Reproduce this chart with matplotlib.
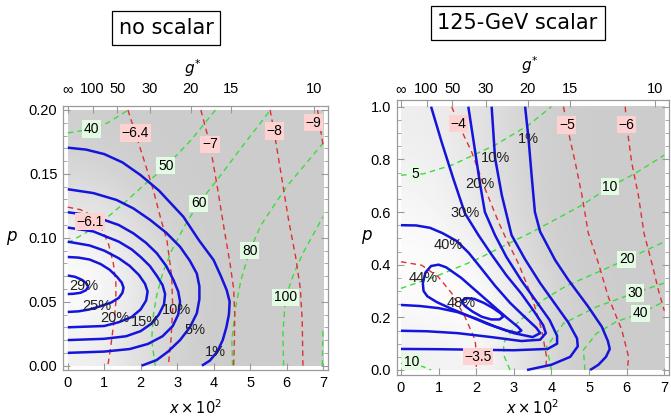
import matplotlib
matplotlib.use('Agg')
import matplotlib.pyplot as plt
import numpy as np

# ---------------- data ----------------
x_ticks = [0, 1, 2, 3, 4, 5, 6, 7]
gstar_pos = [0, 0.68, 1.36, 2.25, 3.37, 4.48, 6.76]
gstar_labels = ['\u221e', '100', '50', '30', '20', '15', '10']

# left panel: background brightness grid (rows = y, cols = x)
L_bg_x = [0, 1, 2, 3, 4, 5, 6, 7]
L_bg_y = [0, 0.05, 0.10, 0.15, 0.20]
L_bg = [[0.94, 0.91, 0.86, 0.82, 0.80, 0.80, 0.80, 0.80],
        [1.00, 0.96, 0.89, 0.83, 0.80, 0.80, 0.80, 0.80],
        [0.95, 0.92, 0.86, 0.82, 0.80, 0.80, 0.80, 0.80],
        [0.86, 0.84, 0.81, 0.80, 0.80, 0.80, 0.80, 0.80],
        [0.81, 0.80, 0.80, 0.80, 0.80, 0.80, 0.80, 0.80]]

L_b29 = [(0, 0.0705), (0.2, 0.0695), (0.4, 0.067), (0.52, 0.064), (0.56, 0.0615), (0.5, 0.059), (0.35, 0.057), (0.15, 0.0562), (0, 0.056)]
L_b25 = [(0, 0.085), (0.3, 0.0845), (0.6, 0.083), (0.9, 0.0795), (1.15, 0.075), (1.35, 0.0695), (1.48, 0.065), (1.53, 0.061), (1.5, 0.057), (1.4, 0.053), (1.2, 0.0495), (0.9, 0.0465), (0.6, 0.044), (0.3, 0.0425), (0, 0.042)]
L_b20 = [(0, 0.097), (0.6, 0.094), (1.0, 0.09), (1.4, 0.084), (1.7, 0.078), (1.95, 0.071), (2.12, 0.064), (2.19, 0.058), (2.15, 0.051), (2.0, 0.044), (1.75, 0.038), (1.4, 0.034), (1.0, 0.031), (0.5, 0.0305), (0, 0.030)]
L_b15 = [(0, 0.108), (0.7, 0.105), (1.4, 0.097), (1.75, 0.091), (2.0, 0.085), (2.25, 0.078), (2.45, 0.070), (2.6, 0.063), (2.67, 0.056), (2.64, 0.048), (2.5, 0.040), (2.3, 0.033), (2.0, 0.027), (1.6, 0.023), (1.0, 0.021), (0, 0.020)]
L_b10 = [(0, 0.120), (0.5, 0.118), (0.9, 0.115), (1.4, 0.11), (1.8, 0.1035), (2.15, 0.096), (2.44, 0.088), (2.7, 0.078), (2.9, 0.067), (3.03, 0.058), (3.08, 0.05), (3.03, 0.04), (2.88, 0.031), (2.6, 0.023), (2.2, 0.017), (1.7, 0.013), (1.0, 0.011), (0, 0.010)]
L_b05 = [(0, 0.138), (0.7, 0.135), (1.34, 0.1296), (1.8, 0.123), (2.26, 0.114), (2.7, 0.104), (3.08, 0.093), (3.35, 0.082), (3.54, 0.072), (3.61, 0.062), (3.61, 0.052), (3.54, 0.041), (3.35, 0.030), (3.08, 0.020), (2.75, 0.011), (2.44, 0.0044), (2.03, 0)]
L_b01 = [(0, 0.1705), (0.5, 0.169), (1.0, 0.1655), (1.5, 0.159), (2.0, 0.149), (2.5, 0.137), (3.17, 0.1165), (3.6, 0.098), (4.0, 0.0826), (4.2, 0.07), (4.36, 0.059), (4.44, 0.05), (4.42, 0.04), (4.35, 0.03), (4.25, 0.02), (4.1, 0.011), (3.9, 0.004), (3.68, 0)]
L_blue = [L_b29, L_b25, L_b20, L_b15, L_b10, L_b05, L_b01]
L_blue_text = ['29%', '25%', '20%', '15%', '10%', '5%', '1%']
L_blue_lab = [(0.43, 0.062), (0.8, 0.047), (1.3, 0.037), (2.12, 0.034), (2.99, 0.0435), (3.49, 0.028), (4.04, 0.011)]

L_r61 = [(0, 0.124), (0.35, 0.122), (0.7, 0.117), (0.95, 0.106), (1.12, 0.095), (1.25, 0.080), (1.32, 0.065), (1.32, 0.050), (1.27, 0.035), (1.18, 0.015), (1.1, 0)]
L_r64 = [(1.65, 0.2), (1.85, 0.182), (2.1, 0.16), (2.35, 0.137), (2.55, 0.115), (2.72, 0.098), (2.85, 0.07), (2.88, 0.045), (2.83, 0.02), (2.76, 0)]
L_r7 = [(3.65, 0.2), (3.9, 0.173), (4.1, 0.14), (4.3, 0.105), (4.45, 0.08), (4.55, 0.06), (4.58, 0.04), (4.57, 0.02), (4.55, 0)]
L_r8 = [(5.55, 0.2), (5.66, 0.183), (5.85, 0.15), (6.05, 0.115), (6.25, 0.085), (6.38, 0.06), (6.43, 0.035), (6.45, 0)]
L_r9 = [(6.85, 0.2), (6.93, 0.185), (7.0, 0.173)]
L_red = [L_r61, L_r64, L_r7, L_r8, L_r9]
L_red_text = ['\u22126.1', '\u22126.4', '\u22127', '\u22128', '\u22129']
L_red_lab = [(0.61, 0.1126), (1.85, 0.182), (3.9, 0.173), (5.66, 0.1836), (6.74, 0.19)]

L_g40 = [(0, 0.182), (0.66, 0.185), (1.1, 0.19), (1.66, 0.2)]
L_g50 = [(0, 0.096), (0.5, 0.104), (1.0, 0.114), (1.5, 0.126), (2.0, 0.139), (2.7, 0.156), (3.4, 0.177), (4.05, 0.2)]
L_g60 = [(2.4, 0), (2.3, 0.02), (2.35, 0.04), (2.44, 0.055), (2.6, 0.072), (2.85, 0.09), (3.2, 0.109), (3.59, 0.127), (4.09, 0.145), (4.8, 0.172), (5.56, 0.2)]
L_g80 = [(4.52, 0), (4.5, 0.02), (4.6, 0.045), (4.75, 0.067), (4.99, 0.09), (5.3, 0.11), (6.0, 0.14), (7.0, 0.174)]
L_g100 = [(5.92, 0), (5.9, 0.025), (5.97, 0.053), (6.2, 0.072), (6.45, 0.088), (7.0, 0.1165)]
L_g150 = [(6.98, 0), (7.0, 0.03)]
L_green = [L_g40, L_g50, L_g60, L_g80, L_g100, L_g150]
L_green_text = ['40', '50', '60', '80', '100']
L_green_lab = [(0.66, 0.185), (2.69, 0.1564), (3.59, 0.127), (4.99, 0.09), (5.97, 0.0534)]

# right panel
R_bg_x = [0, 1, 2, 3, 4, 5, 6, 7]
R_bg_y = [0, 0.2, 0.4, 0.6, 0.8, 1.0]
R_bg = [[0.94, 0.95, 0.96, 0.90, 0.84, 0.80, 0.80, 0.80],
        [0.98, 0.99, 1.00, 0.93, 0.85, 0.81, 0.80, 0.80],
        [0.99, 0.98, 0.95, 0.88, 0.82, 0.80, 0.80, 0.80],
        [0.97, 0.95, 0.91, 0.85, 0.81, 0.80, 0.80, 0.80],
        [0.95, 0.93, 0.89, 0.84, 0.81, 0.80, 0.80, 0.80],
        [0.93, 0.92, 0.88, 0.84, 0.81, 0.80, 0.80, 0.80]]

R_b48 = [(1.6, 0.262), (1.75, 0.273), (1.95, 0.27), (2.2, 0.255), (2.45, 0.235), (2.65, 0.215), (2.72, 0.203), (2.62, 0.192), (2.4, 0.192), (2.15, 0.202), (1.9, 0.222), (1.7, 0.243), (1.6, 0.262)]
R_b44 = [(0.58, 0.33), (0.65, 0.37), (0.8, 0.395), (1.0, 0.40), (1.2, 0.39), (1.6, 0.35), (2.0, 0.30), (2.4, 0.25), (2.8, 0.2), (3.1, 0.165), (3.2, 0.15), (3.1, 0.14), (2.8, 0.15), (2.3, 0.175), (1.8, 0.205), (1.3, 0.235), (0.95, 0.258), (0.7, 0.28), (0.6, 0.3), (0.58, 0.33)]
R_b40 = [(0, 0.55), (0.4, 0.549), (0.77, 0.54), (1.1, 0.52), (1.48, 0.49), (1.8, 0.445), (2.1, 0.392), (2.5, 0.32), (2.9, 0.255), (3.3, 0.2), (3.6, 0.16), (3.7, 0.14), (3.5, 0.125), (3.0, 0.14), (2.5, 0.165), (2.0, 0.195), (1.5, 0.22), (1.0, 0.235), (0.5, 0.243), (0, 0.247)]
R_b30 = [(0.80, 1.0), (1.08, 0.866), (1.39, 0.727), (1.70, 0.595), (2.06, 0.512), (2.4, 0.44), (2.8, 0.36), (3.2, 0.29), (3.55, 0.22), (3.78, 0.17), (3.85, 0.14), (3.7, 0.115), (3.2, 0.11), (2.4, 0.125), (1.5, 0.14), (0.7, 0.147), (0, 0.149)]
R_b20 = [(1.79, 1.0), (1.95, 0.85), (2.1, 0.708), (2.23, 0.60), (2.5, 0.512), (2.8, 0.43), (3.2, 0.34), (3.6, 0.26), (3.95, 0.19), (4.15, 0.13), (4.15, 0.1), (3.9, 0.08), (3.0, 0.075), (2.0, 0.077), (1.0, 0.079), (0, 0.080)]
R_b10 = [(2.41, 1.0), (2.5, 0.806), (2.68, 0.664), (2.94, 0.512), (3.3, 0.42), (3.7, 0.33), (4.1, 0.25), (4.45, 0.18), (4.68, 0.12), (4.7, 0.09), (4.5, 0.05), (4.0, 0.02), (3.35, 0)]
R_b01 = [(3.30, 1.0), (3.39, 0.879), (3.48, 0.727), (3.56, 0.60), (3.70, 0.525), (4.10, 0.417), (4.45, 0.342), (4.98, 0.24), (5.34, 0.164), (5.5, 0.11), (5.55, 0.08), (5.45, 0.05), (5.25, 0.02), (5.03, 0)]
R_blue = [R_b48, R_b44, R_b40, R_b30, R_b20, R_b10, R_b01]
R_blue_text = ['48%', '44%', '40%', '30%', '20%', '10%', '1%']
R_blue_lab = [(1.61, 0.253), (0.59, 0.348), (1.26, 0.474), (1.70, 0.595), (2.1, 0.708), (2.5, 0.806), (3.39, 0.879)]

R_r35 = [(0, 0.411), (0.55, 0.398), (0.99, 0.354), (1.35, 0.291), (1.70, 0.202), (1.97, 0.114), (2.01, 0.05), (2.0, 0)]
R_r4 = [(1.35, 1.0), (1.52, 0.936), (1.88, 0.828), (2.23, 0.69), (2.59, 0.563), (2.77, 0.506), (3.12, 0.405), (3.48, 0.278), (3.74, 0.152), (3.87, 0.05), (3.85, 0)]
R_r5 = [(4.32, 1.0), (4.41, 0.93), (4.63, 0.79), (4.81, 0.664), (4.98, 0.52), (5.25, 0.405), (5.51, 0.278), (5.87, 0.152), (6.05, 0.05), (6.02, 0)]
R_r6 = [(5.96, 1.0), (6.0, 0.932), (6.13, 0.79), (6.31, 0.664), (6.46, 0.52), (6.67, 0.405), (6.85, 0.30), (7.0, 0.225)]
R_red = [R_r35, R_r4, R_r5, R_r6]
R_red_text = ['\u22123.5', '\u22124', '\u22125', '\u22126']
R_red_lab = [(2.05, 0.05), (1.52, 0.936), (4.41, 0.93), (6.0, 0.932)]

R_g5 = [(0, 0.74), (0.6, 0.745), (1.35, 0.778), (2.5, 0.854), (3.39, 0.93), (4.0, 1.0)]
R_g10 = [(0, 0.31), (0.9, 0.354), (1.97, 0.417), (2.77, 0.474), (3.5, 0.525), (4.81, 0.626), (5.56, 0.696), (6.22, 0.746), (7.0, 0.816)]
R_g10b = [(0, 0.025), (0.3, 0.022), (0.6, 0.012), (0.8, 0)]
R_g20 = [(2.9, 0), (2.75, 0.05), (2.72, 0.101), (3.08, 0.177), (3.78, 0.266), (4.4, 0.32), (5.16, 0.367), (6.0, 0.42), (7.0, 0.487)]
R_g30 = [(4.0, 0), (3.87, 0.088), (4.32, 0.177), (5.2, 0.24), (6.22, 0.293), (7.0, 0.33)]
R_g40 = [(4.89, 0), (4.85, 0.076), (5.2, 0.139), (5.73, 0.184), (6.36, 0.215), (7.0, 0.26)]
R_green = [R_g5, R_g10, R_g10b, R_g20, R_g30, R_g40]
R_green_text = ['5', '10', '10', '20', '30', '40']
R_green_lab = [(0.37, 0.746), (5.56, 0.696), (0.28, 0.032), (6.0, 0.42), (6.22, 0.293), (6.36, 0.215)]

# ---------------- drawing ----------------
plt.rcParams['font.family'] = ['Liberation Sans', 'DejaVu Sans']
BLUE = '#1414dc'
RED = '#e03030'
GREEN = '#3cdc3c'
FRAME = '#9a9a9a'

fig = plt.figure(figsize=(6.71, 4.16), dpi=100)


def pts(c):
    a = np.array(c, dtype=float)
    return a[:, 0], a[:, 1]


def panel(rect, xlim, ylim, bgx, bgy, bg, blue, btxt, blab, red, rtxt, rlab,
          green, gtxt, glab, ymajor, yminor, yfmt, title, title_xy, toppad,
          xlab_y, ylab_x, glab_y):
    ax = fig.add_axes(rect)
    ax.imshow(np.array(bg), extent=[bgx[0], bgx[-1], bgy[0], bgy[-1]], origin='lower',
              aspect='auto', cmap='gray', vmin=0, vmax=1, interpolation='bicubic', zorder=0)
    for c in green:
        x, y = pts(c)
        ax.plot(x, y, color=GREEN, lw=1.0, dashes=(4, 3), zorder=2)
    for c in red:
        x, y = pts(c)
        ax.plot(x, y, color=RED, lw=1.0, dashes=(4, 3), zorder=2)
    for c in blue:
        x, y = pts(c)
        ax.plot(x, y, color=BLUE, lw=1.8, zorder=3, solid_capstyle='butt', solid_joinstyle='round')
    for t, (x, y) in zip(btxt, blab):
        ax.text(x, y, t, ha='center', va='center', fontsize=10.5, color='#202020', zorder=5)
    for t, (x, y) in zip(rtxt, rlab):
        ax.text(x, y, t, ha='center', va='center', fontsize=10, color='black', zorder=6,
                bbox=dict(boxstyle='square,pad=0.12', fc='#ffd2d2', ec='none'))
    for t, (x, y) in zip(gtxt, glab):
        ax.text(x, y, t, ha='center', va='center', fontsize=10, color='black', zorder=6,
                bbox=dict(boxstyle='square,pad=0.12', fc='#e2fbe2', ec='none'))
    ax.set_xlim(*xlim)
    ax.set_ylim(*ylim)
    ax.set_xticks(x_ticks)
    ax.set_xticklabels([str(v) for v in x_ticks])
    ax.set_yticks(ymajor)
    ax.set_yticklabels([yfmt % v for v in ymajor])
    ax.set_yticks(yminor, minor=True)
    ax.tick_params(which='both', direction='in', top=False, right=True, labelsize=10.5,
                   color=FRAME, pad=4)
    ax.tick_params(which='major', length=5)
    ax.tick_params(which='minor', length=3)
    for s in ax.spines.values():
        s.set_color(FRAME)
        s.set_linewidth(0.9)
    ax.set_xlabel(r'$x\times 10^2$', fontsize=10.5, va='center')
    ax.xaxis.set_label_coords(0.5, xlab_y)
    ax.set_ylabel(r'$p$', fontsize=12, rotation=0, va='center', ha='center')
    ax.yaxis.set_label_coords(ylab_x, 0.5)
    ax2 = ax.twiny()
    ax2.set_xlim(*xlim)
    ax2.set_xticks(gstar_pos)
    ax2.set_xticklabels(gstar_labels)
    ax2.tick_params(direction='in', length=5, labelsize=10.5, color=FRAME, pad=toppad)
    for s in ax2.spines.values():
        s.set_visible(False)
    ax2.set_xlabel(r'$g^{*}$', fontsize=11, va='center')
    ax2.xaxis.set_label_coords(0.49, glab_y)
    fig.text(title_xy[0] / 671, 1 - title_xy[1] / 416, title, ha='center', va='center',
             fontsize=15, family='DejaVu Sans',
             bbox=dict(boxstyle='square,pad=0.33', fc='white', ec='black', lw=0.9))
    return ax


panel([63 / 671, 46 / 416, 265 / 671, 264 / 416], (-0.13, 7.137), (-0.0034, 0.2031),
      L_bg_x, L_bg_y, L_bg, L_blue, L_blue_text, L_blue_lab, L_red, L_red_text, L_red_lab,
      L_green, L_green_text, L_green_lab,
      [0, 0.05, 0.10, 0.15, 0.20], list(np.round(np.arange(0, 0.2001, 0.01), 3)), '%.2f',
      'no scalar', (166, 28), 7.3, -0.144, -0.194, 1.145)

panel([396.7 / 671, 41 / 416, 272.3 / 671, 275 / 416], (-0.114, 7.125), (-0.019, 1.0254),
      R_bg_x, R_bg_y, R_bg, R_blue, R_blue_text, R_blue_lab, R_red, R_red_text, R_red_lab,
      R_green, R_green_text, R_green_lab,
      [0, 0.2, 0.4, 0.6, 0.8, 1.0], list(np.round(np.arange(0, 1.0001, 0.05), 3)), '%.1f',
      '125-GeV scalar', (517.5, 23.3), 3, -0.12, -0.11, 1.125)

fig.savefig('out.png', dpi=100)
